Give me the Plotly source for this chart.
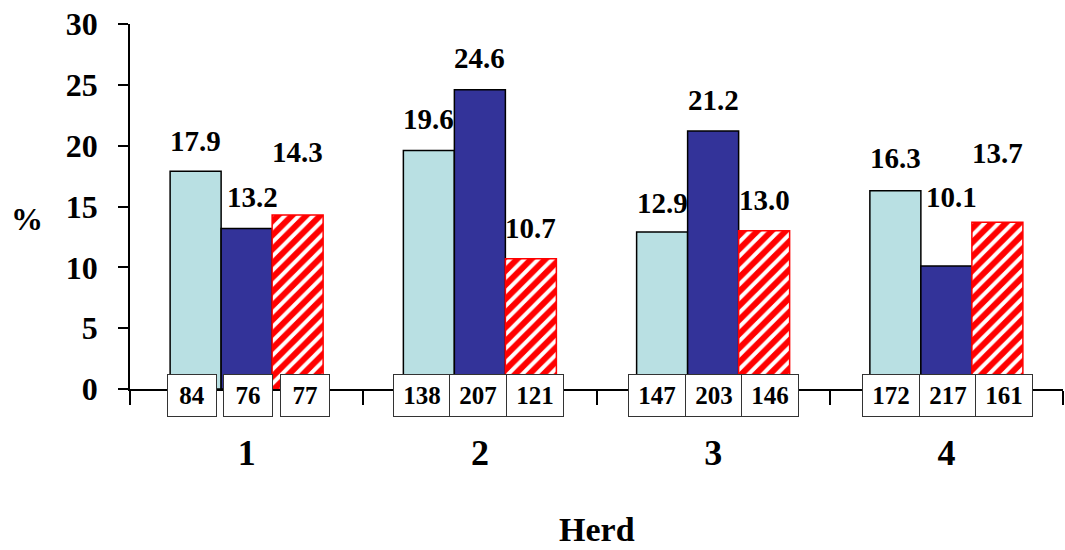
import plotly.graph_objects as go

herds = ["1", "2", "3", "4"]
series_a = [17.9, 19.6, 12.9, 16.3]   # light cyan
series_b = [13.2, 24.6, 21.2, 10.1]   # dark blue
series_c = [14.3, 10.7, 13.0, 13.7]   # red hatched
counts_a = [84, 138, 147, 172]
counts_b = [76, 207, 203, 217]
counts_c = [77, 121, 146, 161]
y_ticks = [0, 5, 10, 15, 20, 25, 30]

FONT = "Liberation Serif"
BAR_PX = 51
label_yshift = [[30, 32, 29, 33], [31, 32, 31, 69], [63, 31, 31, 69]]
label_xnudge = [[0, 0, 0, 0], [6, 0, 0, 5], [0, 0, 0, 0]]
box_width = [48, 56, 56, 56]
box_offset = [1.5, -1.5, 0.5, 1.5]

fig = go.Figure()
fig.add_trace(go.Bar(x=herds, y=series_a, marker=dict(color="#B9E0E3", line=dict(color="#000000", width=1.5))))
fig.add_trace(go.Bar(x=herds, y=series_b, marker=dict(color="#333399", line=dict(color="#000000", width=1.5))))
fig.add_trace(go.Bar(x=herds, y=series_c, marker=dict(color="#FFFFFF", line=dict(color="#FF0000", width=1.5),
                                                     pattern=dict(shape="/", fgcolor="#FF0000", bgcolor="#FFFFFF",
                                                                  fgopacity=1, size=10, solidity=0.6))))

annotations = []
all_series = [series_a, series_b, series_c]
all_counts = [counts_a, counts_b, counts_c]
for s, (vals, cnts) in enumerate(zip(all_series, all_counts)):
    for g, h in enumerate(herds):
        annotations.append(dict(
            x=g, y=vals[g], xref="x", yref="y", text=f"{vals[g]:.1f}", showarrow=False,
            xshift=(s - 1) * BAR_PX + label_xnudge[s][g], yshift=label_yshift[s][g], yanchor="middle",
            font=dict(family=FONT, size=29, color="#000000", weight="bold")))
        annotations.append(dict(
            x=g, y=0, xref="x", yref="y", text=str(cnts[g]), showarrow=False,
            xshift=(s - 1) * 56.5 + box_offset[g], yshift=-6.5, yanchor="middle",
            width=box_width[g], height=41, borderpad=0, bordercolor="#333333", borderwidth=1,
            bgcolor="#FFFFFF", valign="middle",
            font=dict(family=FONT, size=25, color="#000000", weight="bold")))

annotations.append(dict(x=-0.110, y=14, xref="paper", yref="y", text="%", showarrow=False,
                        xanchor="center", yanchor="middle",
                        font=dict(family=FONT, size=32, color="#000000", weight="bold")))
annotations.append(dict(x=0.5005, y=-0.3836, xref="paper", yref="paper", text="Herd", showarrow=False,
                        xanchor="center", yanchor="middle",
                        font=dict(family=FONT, size=34, color="#000000", weight="bold")))

fig.update_layout(
    width=1065, height=550,
    margin=dict(l=130, r=2, t=24, b=161, autoexpand=False),
    paper_bgcolor="#FFFFFF", plot_bgcolor="#FFFFFF",
    barmode="group", bargap=0.344, bargroupgap=0,
    showlegend=False,
    font=dict(family=FONT, color="#000000", weight="bold"),
    annotations=annotations,
    xaxis=dict(type="category", showline=True, linecolor="#000000", linewidth=1.5, ticks="outside",
               ticklen=14, tickwidth=1.5, tickcolor="#000000", tickson="boundaries", showgrid=False,
               zeroline=False, ticklabelstandoff=31, automargin=False,
               tickfont=dict(family=FONT, size=36, color="#000000", weight="bold")),
    yaxis=dict(range=[0, 30], tickvals=y_ticks, showline=True, linecolor="#000000", linewidth=1.5,
               ticks="outside", ticklen=10, tickwidth=1.5, tickcolor="#000000", showgrid=False,
               zeroline=False, ticklabelstandoff=14, ticklabeloverflow="allow", automargin=False,
               tickfont=dict(family=FONT, size=32, color="#000000", weight="bold")),
)

# remove the default 8px page margin so the 1065x550 figure fills the window exactly
fig.write_html("out.html", config={"displayModeBar": False},
               post_script="document.body.style.margin='0';document.body.style.overflow='hidden';")
